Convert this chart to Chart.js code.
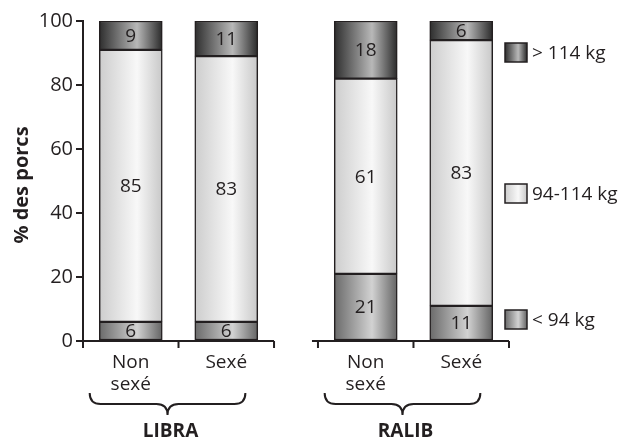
<!DOCTYPE html>
<html>
<head>
<meta charset="utf-8">
<script src="https://cdn.jsdelivr.net/npm/chart.js@4"></script>
<style>
  body { margin: 0; background: #fff; }
  #wrap { width: 624px; height: 441px; }
</style>
</head>
<body>
<div id="wrap"><canvas id="chart" width="624" height="441"></canvas></div>
<script>
// data
const groups = ['LIBRA', 'RALIB'];
const categories = [['Non', 'sexé'], ['Sexé']];
const seriesNames = ['< 94 kg', '94-114 kg', '> 114 kg'];
const lightValues = [6, 6, 21, 11];   // < 94 kg
const midValues = [85, 83, 61, 83];   // 94-114 kg
const heavyValues = [9, 11, 18, 6];   // > 114 kg
const yTicks = [0, 20, 40, 60, 80, 100];

const GAP = 0.46;
const INK = '#231f20';
const FONT = '"Open Sans", sans-serif';
const FS = 19;

// gradient stops for each series: edge, highlight, edge
const shades = [
    ['#6a6a6a', '#d2d2d2', '#646464'],
    ['#cdcdcd', '#f8f8f8', '#c8c8c8'],
    ['#2e2e2e', '#b8b8b8', '#2a2a2a']
];

function barX(i) {
    const g = Math.floor(i / categories.length);
    const c = i % categories.length;
    return g * (categories.length + GAP) + c + 0.5;
}

function makeGradient(ctx, left, right, s) {
    const grad = ctx.createLinearGradient(left, 0, right, 0);
    grad.addColorStop(0, shades[s][0]);
    grad.addColorStop(0.6, shades[s][1]);
    grad.addColorStop(1, shades[s][2]);
    return grad;
}

const BAR_W = 63;

function series(values, s) {
    return {
        label: seriesNames[s],
        data: values.map((v, i) => ({ x: barX(i), y: v })),
        backgroundColor: (context) => {
            const chart = context.chart;
            if (!chart.chartArea || context.raw === undefined) return shades[s][1];
            const cx = chart.scales.x.getPixelForValue(context.raw.x);
            return makeGradient(chart.ctx, cx - BAR_W / 2, cx + BAR_W / 2, s);
        },
        borderColor: INK,
        borderWidth: 1.5,
        borderSkipped: false,
        barThickness: BAR_W
    };
}

const decorations = {
    id: 'decorations',
    afterDatasetsDraw(chart) {
        const ctx = chart.ctx;
        const xs = chart.scales.x;
        const ys = chart.scales.y;
        const y0 = ys.getPixelForValue(0);
        const n = categories.length;
        ctx.save();
        ctx.strokeStyle = INK;
        ctx.fillStyle = INK;
        ctx.lineWidth = 2;

        // value labels inside the segments
        ctx.font = FS + 'px ' + FONT;
        ctx.textAlign = 'center';
        ctx.textBaseline = 'middle';
        chart.data.datasets.forEach((ds, d) => {
            chart.getDatasetMeta(d).data.forEach((bar, i) => {
                ctx.fillText(String(ds.data[i].y), bar.x, (bar.y + bar.base) / 2 + 1);
            });
        });

        groups.forEach((name, g) => {
            const start = g * (n + GAP);
            // axis segment with ticks hanging down
            ctx.beginPath();
            ctx.moveTo(xs.getPixelForValue(start) - (g === 0 ? 1 : 6), y0);
            ctx.lineTo(xs.getPixelForValue(start + n), y0);
            for (let k = 0; k <= n; k++) {
                const px = xs.getPixelForValue(start + k);
                ctx.moveTo(px, y0);
                ctx.lineTo(px, y0 + 7);
            }
            ctx.stroke();

            // category labels
            ctx.font = FS + 'px ' + FONT;
            ctx.textBaseline = 'middle';
            categories.forEach((lines, c) => {
                const px = xs.getPixelForValue(start + c + 0.5);
                lines.forEach((t, l) => ctx.fillText(t, px, y0 + 22 + l * 22));
            });

            // brace under the group
            const bl = xs.getPixelForValue(start + 0.07);
            const br = xs.getPixelForValue(start + 1.7);
            const bm = (bl + br) / 2;
            const top = y0 + 52, mid = y0 + 63, tip = y0 + 74;
            ctx.beginPath();
            ctx.moveTo(bl, top);
            ctx.quadraticCurveTo(bl, mid, bl + 11, mid);
            ctx.lineTo(bm - 11, mid);
            ctx.quadraticCurveTo(bm, mid, bm, tip);
            ctx.quadraticCurveTo(bm, mid, bm + 11, mid);
            ctx.lineTo(br - 11, mid);
            ctx.quadraticCurveTo(br, mid, br, top);
            ctx.stroke();

            ctx.font = 'bold ' + FS + 'px ' + FONT;
            ctx.fillText(name, bm + 3, y0 + 91);
        });

        // y axis title
        ctx.save();
        ctx.translate(22, (chart.chartArea.top + chart.chartArea.bottom) / 2 + 4);
        ctx.rotate(-Math.PI / 2);
        ctx.font = 'bold 20px ' + FONT;
        ctx.fillText('% des porcs', 0, 0);
        ctx.restore();

        // legend on the right
        const legendY = [320, 194, 53];
        ctx.font = FS + 'px ' + FONT;
        ctx.textAlign = 'left';
        seriesNames.forEach((name, s) => {
            const sx = 505, sy = legendY[s] - 10, sw = 22, sh = 19;
            ctx.fillStyle = makeGradient(ctx, sx, sx + sw, s);
            ctx.fillRect(sx, sy, sw, sh);
            ctx.lineWidth = 1.5;
            ctx.strokeRect(sx, sy, sw, sh);
            ctx.fillStyle = INK;
            ctx.fillText(name, sx + sw + 5, legendY[s] + 1);
        });
        ctx.restore();
    }
};

new Chart(document.getElementById('chart'), {
    type: 'bar',
    data: {
        datasets: [
            series(lightValues, 0),
            series(midValues, 1),
            series(heavyValues, 2)
        ]
    },
    options: {
        responsive: false,
        animation: false,
        layout: { padding: { left: 0, right: 115, top: 21, bottom: 100 } },
        plugins: { legend: { display: false }, tooltip: { enabled: false } },
        scales: {
            x: {
                type: 'linear',
                stacked: true,
                offset: false,
                min: 0,
                max: groups.length * categories.length + GAP * (groups.length - 1),
                display: false
            },
            y: {
                stacked: true,
                min: 0,
                max: 100,
                afterBuildTicks: (scale) => { scale.ticks = yTicks.map(v => ({ value: v })); },
                afterFit: (scale) => { scale.width = 83; },
                ticks: { color: INK, font: { family: FONT, size: 20 }, padding: 3 },
                grid: { drawOnChartArea: false, tickLength: 7, tickColor: INK, lineWidth: 2 },
                border: { display: true, color: INK, width: 2 }
            }
        }
    },
    plugins: [decorations]
});
</script>
</body>
</html>
